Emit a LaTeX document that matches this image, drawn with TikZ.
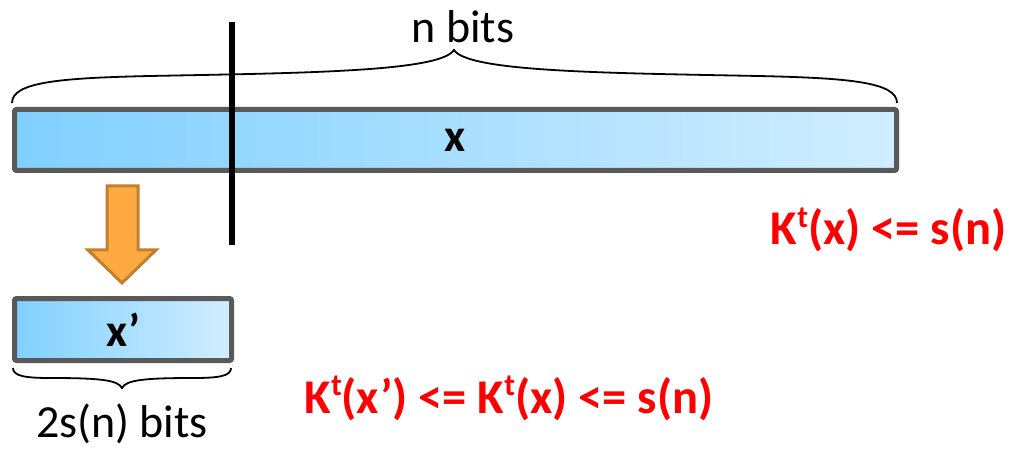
\documentclass[tikz,border=0pt]{standalone}
\usepackage{fontspec}
\setmainfont{Carlito}
\usepackage{tikz}
\usetikzlibrary{positioning, calc}

\definecolor{barblue}{RGB}{128,208,255}
\definecolor{barmid}{RGB}{170,224,255}
\definecolor{barpale}{RGB}{208,237,255}
\definecolor{bargray}{RGB}{89,89,89}
\definecolor{arrfill}{RGB}{255,170,64}
\definecolor{arrline}{RGB}{193,128,48}

% raised t of the time bound
\newcommand{\supt}{\raisebox{0.36em}{\fontsize{31}{31}\selectfont t}}

\begin{document}
\begin{tikzpicture}[x=1pt, y=-1pt, font=\fontsize{46}{50}\selectfont,
    bar/.style={draw=bargray, line width=5pt, rounded corners=2pt,
        left color=barblue, middle color=barmid, right color=barpale, inner sep=0pt,
        font=\fontsize{46}{50}\selectfont\bfseries},
    brace/.style={black, line width=1.8pt},
    bound/.style={red, font=\fontsize{48.5}{50}\selectfont\bfseries}]
    \useasboundingbox (0,0) rectangle (1015,449);

    % the two strings
    \node[bar, minimum width=882pt, minimum height=61pt] (xbar) at (455.5,140) {x};
    \node[bar, minimum width=217pt, minimum height=62pt] (xpbar) at (123,329.5) {x’};

    % cut line
    \draw[black, line width=6pt] (232,22) -- (232,245);

    % compression arrow
    \draw[fill=arrfill, draw=arrline, line width=3pt, line join=miter]
        (107,186) -- (138,186) -- (138,250) -- (156,250) -- (122,283)
        -- (88,250) -- (107,250) -- cycle;

    % brace over x
    \draw[brace] (12,103) .. controls (12,82) and (60,78) .. (150,76)
        .. controls (300,73) and (440,72) .. (454,50)
        .. controls (468,72) and (608,73) .. (758,76)
        .. controls (848,78) and (897,82) .. (897,103);
    \node[anchor=base] (nlab) at (463,43) {n bits};

    % brace under x'
    \draw[brace] (13,368) .. controls (13,376) and (25,378) .. (50,378)
        .. controls (100,378) and (118,380) .. (122,388)
        .. controls (126,380) and (144,378) .. (194,378)
        .. controls (219,378) and (231,376) .. (231,368);
    \node[anchor=base] (slab) at (122,437) {2s(n) bits};

    % bounds
    \node[bound, anchor=base east] (kx) at (1010,245) {K\supt(x) <= s(n)};
    \node[bound, anchor=base west] (kxp) at (301,413) {K\supt(x’) <= K\supt(x) <= s(n)};
\end{tikzpicture}
\end{document}
